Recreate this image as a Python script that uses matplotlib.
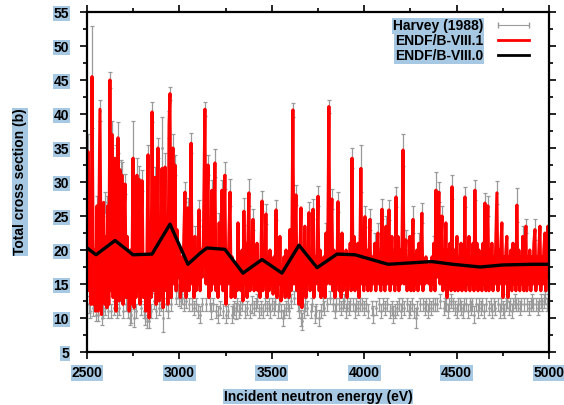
import matplotlib
matplotlib.use("Agg")
import matplotlib.pyplot as plt
from matplotlib.lines import Line2D

plt.rcParams['font.family'] = ['Liberation Sans', 'DejaVu Sans']
plt.rcParams['font.weight'] = 'bold'

# ENDF/B-VIII.1 evaluated total cross section (b)
red_energy = [
    2500, 2505, 2512, 2518, 2522, 2527, 2535, 2541, 2546, 2554,
    2560, 2570, 2578, 2585, 2590, 2597, 2603, 2608, 2612, 2618,
    2624, 2630, 2635, 2641, 2646, 2651, 2657, 2662, 2668, 2674,
    2679, 2684, 2689, 2695, 2700, 2706, 2712, 2717, 2722, 2728,
    2735, 2742, 2749, 2755, 2760, 2765, 2770, 2776, 2781, 2787,
    2792, 2798, 2805, 2812, 2818, 2823, 2830, 2836, 2842, 2847,
    2852, 2858, 2863, 2868, 2874, 2879, 2884, 2890, 2895, 2900,
    2906, 2912, 2917, 2922, 2928, 2933, 2938, 2944, 2949, 2955,
    2960, 2965, 2971, 2976, 2982, 2987, 2992, 2998, 3005, 3012,
    3018, 3024, 3030, 3036, 3041, 3046, 3052, 3058, 3063, 3069,
    3074, 3079, 3084, 3090, 3096, 3101, 3106, 3112, 3118, 3124,
    3130, 3138, 3144, 3150, 3155, 3160, 3166, 3171, 3176, 3182,
    3187, 3192, 3198, 3203, 3209, 3215, 3220, 3225, 3230, 3236,
    3241, 3246, 3252, 3257, 3263, 3268, 3274, 3280, 3285, 3291,
    3296, 3301, 3306, 3312, 3317, 3322, 3328, 3333, 3339, 3344,
    3349, 3355, 3360, 3366, 3371, 3376, 3382, 3387, 3393, 3398,
    3404, 3409, 3415, 3420, 3425, 3431, 3436, 3441, 3447, 3452,
    3458, 3463, 3468, 3474, 3479, 3485, 3490, 3496, 3501, 3507,
    3512, 3517, 3523, 3528, 3533, 3539, 3544, 3550, 3555, 3561,
    3566, 3572, 3577, 3583, 3588, 3593, 3598, 3604, 3609, 3614,
    3620, 3625, 3631, 3636, 3642, 3647, 3652, 3658, 3663, 3669,
    3674, 3679, 3685, 3690, 3695, 3701, 3707, 3712, 3718, 3723,
    3728, 3734, 3739, 3745, 3750, 3756, 3761, 3766, 3772, 3777,
    3782, 3788, 3793, 3798, 3804, 3809, 3815, 3820, 3825, 3831,
    3836, 3842, 3847, 3852, 3858, 3864, 3869, 3875, 3880, 3886,
    3891, 3896, 3902, 3907, 3913, 3918, 3924, 3929, 3934, 3940,
    3945, 3950, 3956, 3961, 3966, 3972, 3977, 3982, 3988, 3993,
    3998, 4004, 4010, 4015, 4020, 4026, 4031, 4036, 4042, 4047,
    4052, 4058, 4063, 4069, 4074, 4080, 4085, 4090, 4096, 4102,
    4107, 4112, 4118, 4123, 4129, 4134, 4140, 4145, 4150, 4156,
    4161, 4166, 4172, 4177, 4183, 4188, 4194, 4199, 4205, 4210,
    4216, 4221, 4226, 4232, 4237, 4242, 4247, 4253, 4258, 4264,
    4269, 4274, 4280, 4285, 4291, 4296, 4302, 4307, 4312, 4318,
    4323, 4329, 4334, 4340, 4345, 4350, 4356, 4361, 4367, 4372,
    4377, 4383, 4388, 4394, 4399, 4404, 4410, 4415, 4421, 4426,
    4432, 4437, 4442, 4448, 4453, 4459, 4464, 4470, 4475, 4480,
    4486, 4491, 4497, 4502, 4508, 4513, 4518, 4524, 4529, 4534,
    4540, 4545, 4550, 4556, 4561, 4567, 4572, 4578, 4583, 4589,
    4594, 4599, 4605, 4610, 4616, 4621, 4626, 4632, 4637, 4643,
    4648, 4653, 4659, 4664, 4669, 4675, 4680, 4686, 4691, 4697,
    4702, 4707, 4713, 4718, 4724, 4729, 4734, 4740, 4745, 4751,
    4756, 4761, 4767, 4772, 4778, 4783, 4788, 4794, 4799, 4805,
    4810, 4815, 4821, 4826, 4832, 4837, 4842, 4848, 4853, 4858,
    4864, 4869, 4875, 4880, 4886, 4891, 4896, 4902, 4907, 4913,
    4918, 4924, 4929, 4935, 4940, 4945, 4951, 4956, 4962, 4967,
    4972, 4978, 4983, 4989, 4994, 5000,
]
red_xs = [
    17, 34.5, 14, 22, 12, 45.5, 12, 20, 11, 26.5,
    11, 40.7, 10.5, 20, 27, 12, 22, 11.5, 26.5, 12,
    45, 14, 37, 13, 25, 33.5, 11, 20, 36.5, 12.5,
    31.8, 14, 31, 12, 24, 29.7, 13, 22, 18, 11,
    20, 12, 33.5, 11.5, 21, 13, 31, 14, 30.4, 12,
    22, 30.2, 13, 19, 11, 16, 34, 10, 21, 13,
    40.3, 14, 23, 30.7, 12, 20, 35, 12.5, 22, 13,
    32, 11.5, 21, 32.2, 14, 22, 12, 38.5, 43, 13,
    24, 35, 15, 32.5, 14, 23, 16, 20, 13, 19,
    14, 22, 28.5, 13, 19, 26.2, 14, 22, 35.7, 15,
    21, 13, 22, 14, 19, 15, 25.9, 14, 20, 16,
    22, 40.7, 15, 26, 32.5, 13, 22, 14, 28.8, 15,
    22, 32.8, 14, 20, 13, 24, 15, 21, 28.8, 14,
    23, 31, 12, 20, 15, 22, 28.5, 13, 19, 14,
    18, 13, 17, 14, 24, 15, 18, 14, 20, 12.5,
    25.7, 15, 21, 13, 22, 28.4, 14, 20, 15, 24.5,
    14, 19, 15, 21, 14, 18, 13, 19, 27.2, 14,
    20, 15, 25.3, 13, 19, 14, 20, 15, 18, 13.5,
    19, 14, 25.9, 13, 20, 15, 22, 12.5, 17, 14,
    19, 13, 20, 15, 18, 13, 23, 14, 22, 40.6,
    15, 22, 28.1, 14, 20, 12, 19, 26.2, 11.5, 18,
    14, 23.5, 13, 19, 15, 25.5, 14, 20, 15, 26,
    13, 19, 15, 21, 27.9, 14, 20, 13, 18, 14,
    19, 13, 22.5, 15, 24, 41.1, 15, 22, 27.5, 14,
    20, 13, 19, 15, 27.1, 14, 21, 13, 22.5, 14,
    18, 15, 20, 13, 19, 15, 21, 14, 33.5, 15,
    22, 14, 19, 15, 21, 13, 20, 32, 15, 21,
    14, 24.9, 15, 20, 14, 19, 24.5, 14, 19, 15,
    18, 21, 14, 19, 22.5, 15, 19, 14, 26, 15,
    20, 14, 23.5, 15, 19, 25.9, 14, 19, 22, 15,
    19, 14, 27.8, 15, 22, 14, 20, 15, 22, 34.7,
    15, 19, 21.5, 14, 18, 15, 22, 14, 19, 24.5,
    14, 19, 15, 20, 14, 21, 15, 19, 25.4, 14,
    18, 15, 19, 16, 17.5, 15, 18, 14, 19, 15,
    21, 14, 28.8, 16, 21, 28.5, 15, 20, 25, 14,
    19, 15, 24, 13, 20, 15, 21, 14, 29.3, 15,
    20, 14, 19, 22, 14, 19, 15, 21, 14, 19,
    15, 27.8, 14, 20, 15, 22, 14, 19, 15, 21,
    14, 28.8, 15, 21, 14, 20, 15, 19, 14, 21,
    15, 26.9, 14, 20, 26.5, 14, 20, 15, 21, 14,
    19, 15, 22, 28.4, 14, 20, 15, 21, 24, 13,
    19, 15, 20, 22, 13, 19, 15, 20, 14, 21,
    15, 20, 14, 26.6, 15, 20, 14, 19, 15, 22,
    14, 19, 23.5, 14, 19, 15, 20, 14, 19, 15,
    21, 23, 14, 19, 15, 20, 23.5, 14, 19, 15,
    20, 22.5, 14, 20, 23.5, 16,
]

# ENDF/B-VIII.0 (smooth average)
black_energy = [2500, 2549, 2652, 2749, 2852, 2949, 3046, 3111, 3149, 3246,
                3344, 3447, 3555, 3647, 3745, 3853, 3950, 4129, 4366, 4479,
                4627, 4751, 4913, 5000]
black_xs = [20.3, 19.3, 21.4, 19.3, 19.4, 23.8, 17.9, 19.5, 20.3, 20.1,
            16.6, 18.6, 16.6, 20.7, 17.4, 19.4, 19.3, 17.9, 18.3, 17.9,
            17.5, 17.8, 17.9, 17.9]

# Harvey (1988) measurement
harvey_energy = [
    2503, 2510, 2516, 2527, 2533, 2540, 2548, 2556, 2562, 2572,
    2580, 2588, 2595, 2600, 2610, 2616, 2624, 2632, 2637, 2645,
    2655, 2660, 2668, 2675, 2682, 2690, 2697, 2706, 2713, 2720,
    2730, 2740, 2749, 2757, 2765, 2771, 2783, 2790, 2799, 2808,
    2816, 2824, 2830, 2838, 2845, 2852, 2860, 2868, 2876, 2884,
    2892, 2900, 2906, 2913, 2922, 2930, 2938, 2944, 2949, 2957,
    2965, 2976, 2984, 2992, 3000, 3008, 3016, 3024, 3030, 3038,
    3046, 3054, 3063, 3070, 3078, 3085, 3092, 3100, 3106, 3114,
    3122, 3130, 3138, 3146, 3155, 3163, 3170, 3176, 3184, 3192,
    3200, 3208, 3215, 3222, 3230, 3238, 3246, 3254, 3263, 3274,
    3282, 3290, 3298, 3306, 3314, 3322, 3330, 3338, 3349, 3356,
    3366, 3376, 3384, 3392, 3398, 3406, 3414, 3422, 3430, 3440,
    3447, 3455, 3462, 3468, 3476, 3484, 3492, 3500, 3510, 3517,
    3523, 3531, 3540, 3550, 3558, 3566, 3575, 3585, 3593, 3603,
    3614, 3622, 3631, 3640, 3648, 3656, 3663, 3672, 3680, 3690,
    3701, 3710, 3718, 3723, 3732, 3740, 3750, 3758, 3766, 3775,
    3782, 3793, 3800, 3809, 3817, 3825, 3833, 3842, 3850, 3858,
    3866, 3875, 3883, 3891, 3900, 3908, 3916, 3925, 3934, 3942,
    3950, 3958, 3966, 3975, 3982, 3990, 3998, 4004, 4012, 4020,
    4031, 4040, 4048, 4058, 4066, 4074, 4082, 4090, 4096, 4104,
    4112, 4118, 4126, 4134, 4142, 4150, 4158, 4166, 4172, 4180,
    4188, 4197, 4205, 4210, 4218, 4226, 4234, 4242, 4250, 4258,
    4264, 4272, 4280, 4288, 4296, 4304, 4312, 4320, 4328, 4336,
    4345, 4352, 4361, 4370, 4377, 4383, 4388, 4396, 4404, 4412,
    4421, 4430, 4438, 4445, 4453, 4460, 4468, 4475, 4483, 4491,
    4500, 4508, 4516, 4524, 4532, 4540, 4545, 4553, 4561, 4570,
    4578, 4585, 4593, 4599, 4607, 4615, 4623, 4632, 4640, 4648,
    4653, 4661, 4669, 4677, 4686, 4694, 4702, 4710, 4718, 4726,
    4734, 4742, 4750, 4758, 4766, 4774, 4782, 4790, 4798, 4806,
    4814, 4820, 4826, 4834, 4842, 4850, 4858, 4866, 4875, 4883,
    4891, 4900, 4908, 4916, 4924, 4932, 4940, 4948, 4956, 4964,
    4972, 4980, 4988, 4996,
]
harvey_xs = [
    34, 12, 11, 45.5, 11.5, 12, 10.5, 26.5, 10.5, 40.5,
    10, 11, 27, 11.5, 26.5, 11, 45, 11, 37, 11.5,
    33.5, 11, 36.5, 11.5, 31.8, 31, 11, 29.7, 12, 11,
    10, 10.5, 33.5, 10, 11, 31, 30.4, 11.5, 30.2, 11,
    10, 9.5, 34, 9.5, 11, 40.3, 12.5, 30.7, 11, 35,
    11.5, 12, 35, 10, 32.2, 12, 11, 38.5, 43, 12,
    35, 32.5, 13, 14, 13, 12.5, 13, 12, 28.5, 12.5,
    26.2, 12, 35.7, 12, 11.5, 22, 12, 11, 25.9, 10.5,
    12, 22, 40.7, 12, 32.5, 12, 11, 28.8, 12, 32.8,
    11, 10.5, 24, 11.5, 28.8, 11, 31, 10.5, 11, 28.5,
    10.5, 11, 11.5, 11, 12, 11, 11.5, 12, 25.7, 11,
    11.5, 28.4, 11, 12, 24.5, 11.5, 12, 12.5, 11, 11.5,
    27.2, 11, 12, 25.3, 11.5, 12, 11, 12, 11.5, 12,
    25.9, 11, 12, 11, 10, 11, 11.5, 12, 11, 12.5,
    40.6, 13, 28.1, 12, 11, 10, 9.5, 11, 12, 11.5,
    25.5, 11, 12, 26, 10.5, 11, 27.9, 10, 11, 12,
    11.5, 22.5, 12, 41.1, 13, 27.5, 12, 11, 12, 27.1,
    12, 11.5, 12, 12.5, 11, 12, 11.5, 12, 33.5, 12,
    11, 12, 11.5, 12, 32, 12, 11.5, 24.9, 12, 11,
    24.5, 11.5, 10.5, 21, 11.5, 22.5, 12, 11, 26, 12,
    11.5, 23.5, 12, 25.9, 11, 11.5, 10.5, 11, 27.8, 11.5,
    12, 11, 12, 34.7, 11.5, 21.5, 12, 11, 11.5, 12,
    24.5, 11, 10, 11.5, 21, 12, 25.4, 12, 11.5, 12,
    11, 12, 11.5, 12, 21, 12, 28.8, 12, 28.5, 12.5,
    25, 11.5, 12, 12, 11, 12, 12.5, 29.3, 12, 11.5,
    11, 12, 12, 11.5, 11, 12, 27.8, 12, 11, 12,
    11.5, 12, 10.5, 28.8, 12, 11, 12, 11.5, 12, 11,
    26.9, 12, 26.5, 11.5, 12, 11, 12, 11.5, 28.4, 12,
    11, 12, 11.5, 11, 12, 12.5, 11.5, 12, 11, 12,
    12.5, 12, 26.6, 12, 11.5, 12, 22, 12, 23.5, 12,
    11.5, 12, 12.5, 12, 23, 12, 11.5, 12, 12.5, 12,
    12.5, 13, 12, 12.5,
]
harvey_err = [
    3, 1.2, 1, 7.5, 1.2, 1, 1, 1.5, 1, 1.5,
    1, 1, 1.5, 1, 1.5, 1, 1.2, 1, 2, 1,
    2, 1, 2.3, 1, 1.5, 2, 1, 1.5, 1, 1,
    1, 1.2, 5.5, 1.3, 1, 2.5, 2, 1, 1.5, 1,
    1, 1, 1.5, 1, 1, 1.5, 1.2, 1.5, 1, 1.5,
    1, 1, 4.5, 2, 2, 1, 1, 2, 1, 1,
    2, 1.5, 1, 1, 1.2, 1, 1, 1, 1.5, 1,
    1.5, 1, 1.5, 1, 1, 1.5, 1, 1, 1.5, 1.2,
    1, 1.5, 1, 1, 1.5, 1, 1.2, 1.5, 1, 2,
    1, 1.2, 1.5, 1, 1.5, 1, 2, 1.2, 1, 2,
    1.2, 1, 1, 1.2, 1, 1, 1, 1, 2, 1,
    1, 2, 1, 1.2, 1.5, 1, 1, 1, 1, 1,
    1.5, 1, 1, 1.5, 1, 1, 1, 1, 1, 1,
    1.5, 1, 1, 1, 1.2, 1, 1, 1, 1, 1,
    1, 1, 1.5, 1, 1, 1.2, 1.2, 1, 1, 1,
    1.5, 1, 1, 1.5, 1.2, 1, 1.5, 1.2, 1, 1,
    1, 1.5, 1, 1, 1, 1.5, 1, 1, 1, 1.5,
    1, 1, 1, 1, 1, 1, 1, 1, 1.5, 1,
    1, 1, 1, 1, 3.4, 1, 1, 1.5, 1, 1,
    1.5, 1, 1.2, 1.5, 1, 1.5, 1, 1, 1.5, 1,
    1, 1.5, 1, 1.5, 1, 1, 1.2, 1, 1.5, 1,
    1, 1, 1, 2.3, 1, 1.5, 1, 1, 1, 1,
    2, 1, 1.5, 1, 1.5, 1, 1.5, 1, 1, 1,
    1, 1, 1, 1, 1, 1, 2.7, 1, 1.5, 1,
    1.5, 1, 1, 1, 1, 1, 1, 1.8, 1, 1,
    1, 1, 1, 1, 1, 1, 1.5, 1, 1, 1,
    1, 1, 1.2, 1.5, 1, 1, 1, 1, 1, 1,
    1.5, 1, 1.5, 1, 1, 1, 1, 1, 1.7, 1,
    1, 1, 1, 1, 1, 1, 1, 1, 1, 1,
    1, 1, 2.5, 1, 1, 1, 1.5, 1, 1, 1,
    1, 1, 1, 1, 1.5, 1, 1, 1, 1, 1,
    1, 1, 1, 1,
]

x_ticks = [2500, 3000, 3500, 4000, 4500, 5000]
y_ticks = [5, 10, 15, 20, 25, 30, 35, 40, 45, 50, 55]

highlight = dict(facecolor='#a7c8e2', edgecolor='none', pad=0.6)

fig = plt.figure(figsize=(5.64, 4.05), dpi=100)
ax = fig.add_axes([87 / 564, 53 / 405, 462 / 564, 340 / 405])

ax.errorbar(harvey_energy, harvey_xs, yerr=harvey_err, fmt='.', color='#9a9a9a',
            markersize=2, elinewidth=0.9, capsize=1.6, capthick=0.9, zorder=1)
ax.plot(red_energy, red_xs, color='#ff0000', lw=2.2, zorder=2)
ax.plot(black_energy, black_xs, color='black', lw=2.4, zorder=3)

ax.set_xlim(2500, 5000)
ax.set_ylim(5, 55)
ax.set_xticks(x_ticks)
ax.set_yticks(y_ticks)
ax.set_xticks([2750, 3250, 3750, 4250, 4750], minor=True)
ax.set_yticks([7.5 + 5 * i for i in range(10)], minor=True)
ax.tick_params(which='both', direction='out', top=True, right=True,
               labelsize=10, width=1.2)
ax.tick_params(which='major', length=5)
ax.tick_params(which='minor', length=3)
ax.tick_params(axis='y', which='major', pad=8)
ax.tick_params(axis='x', which='major', pad=5)
for s in ax.spines.values():
    s.set_linewidth(1.6)

for lab in ax.get_xticklabels() + ax.get_yticklabels():
    lab.set_fontweight('bold')
    lab.set_bbox(highlight)

ax.set_xlabel('Incident neutron energy (eV)', fontsize=10, fontweight='bold',
              labelpad=7, bbox=highlight)
ax.set_ylabel('Total cross section (b)', fontsize=10, fontweight='bold',
              labelpad=19, bbox=highlight)

handles = [
    Line2D([], [], color='#9a9a9a', lw=0.8, marker='|', markersize=5),
    Line2D([], [], color='#ff0000', lw=2),
    Line2D([], [], color='black', lw=2),
]
labels = ['Harvey (1988)', 'ENDF/B-VIII.1', 'ENDF/B-VIII.0']
leg = fig.legend(handles, labels, loc='upper right',
                 bbox_to_anchor=(533 / 564, (405 - 19) / 405),
                 frameon=False, markerfirst=False, numpoints=2,
                 fontsize=10, handlelength=2.8, handletextpad=0.8,
                 labelspacing=0.08, borderpad=0, borderaxespad=0)
for t in leg.get_texts():
    t.set_fontweight('bold')
    t.set_bbox(highlight)

fig.savefig('out.png', dpi=100)
